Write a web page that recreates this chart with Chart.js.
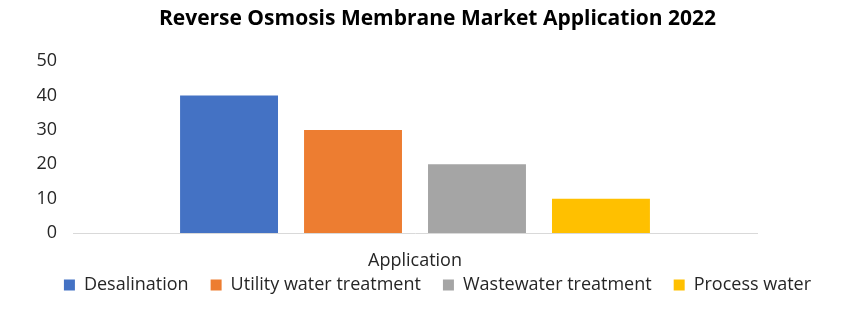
<!DOCTYPE html>
<html>
<head>
<meta charset="utf-8">
<script src="https://cdn.jsdelivr.net/npm/chart.js@4"></script>
<style>
  html, body { margin: 0; padding: 0; background: #fff; }
  #wrap { width: 861px; height: 312px; }
</style>
</head>
<body>
<div id="wrap"><canvas id="chartApplication"></canvas></div>
<script>
var categories = ["Application"];
var seriesNames = ["Desalination", "Utility water treatment", "Wastewater treatment", "Process water"];
var seriesValues = [[40], [30], [20], [10]];
var seriesColors = ["#4472C4", "#ED7D31", "#A5A5A5", "#FFC000"];
var yTicks = [0, 10, 20, 30, 40, 50];

var datasets = [];
for (var i in seriesNames) {
    datasets.push({
        label: seriesNames[i],
        data: seriesValues[i],
        backgroundColor: seriesColors[i],
        categoryPercentage: 0.725,
        barPercentage: 0.79
    });
}

var ctx = document.getElementById('chartApplication').getContext('2d');
var chart = new Chart(ctx, {
    type: 'bar',
    data: { labels: categories, datasets: datasets },
    options: {
        responsive: true,
        maintainAspectRatio: false,
        animation: false,
        layout: { padding: { left: 14, right: 0, top: 6, bottom: 8 } },
        plugins: {
            title: {
                display: true,
                text: 'Reverse Osmosis Membrane Market Application 2022',
                color: '#000',
                font: { family: 'Open Sans', size: 21, weight: 'bold' },
                padding: { top: 0, bottom: 30 }
            },
            legend: {
                position: 'bottom',
                labels: {
                    boxWidth: 11,
                    boxHeight: 11,
                    padding: 22,
                    color: '#262626',
                    font: { family: 'Open Sans', size: 18 }
                }
            },
            tooltip: { enabled: false }
        },
        scales: {
            x: {
                grid: { display: false },
                border: { color: '#d9d9d9' },
                ticks: { display: false },
                afterFit: function(scale) { scale.height = 21; },
                title: {
                    display: true,
                    text: 'Application',
                    color: '#262626',
                    font: { family: 'Open Sans', size: 18 },
                    padding: { top: 0, bottom: -18 }
                }
            },
            y: {
                min: 0,
                max: 50,
                afterFit: function(scale) { scale.width = 59; },
                afterBuildTicks: function(scale) {
                    scale.ticks = yTicks.map(function(v) { return { value: v }; });
                },
                grid: { display: false },
                border: { display: false },
                ticks: {
                    padding: 8,
                    color: '#262626',
                    font: { family: 'Open Sans', size: 18 }
                }
            },
            yRight: {
                position: 'right',
                grid: { display: false },
                border: { display: false },
                ticks: { display: false },
                afterFit: function(scale) { scale.width = 104; }
            }
        }
    }
});
</script>
</body>
</html>
